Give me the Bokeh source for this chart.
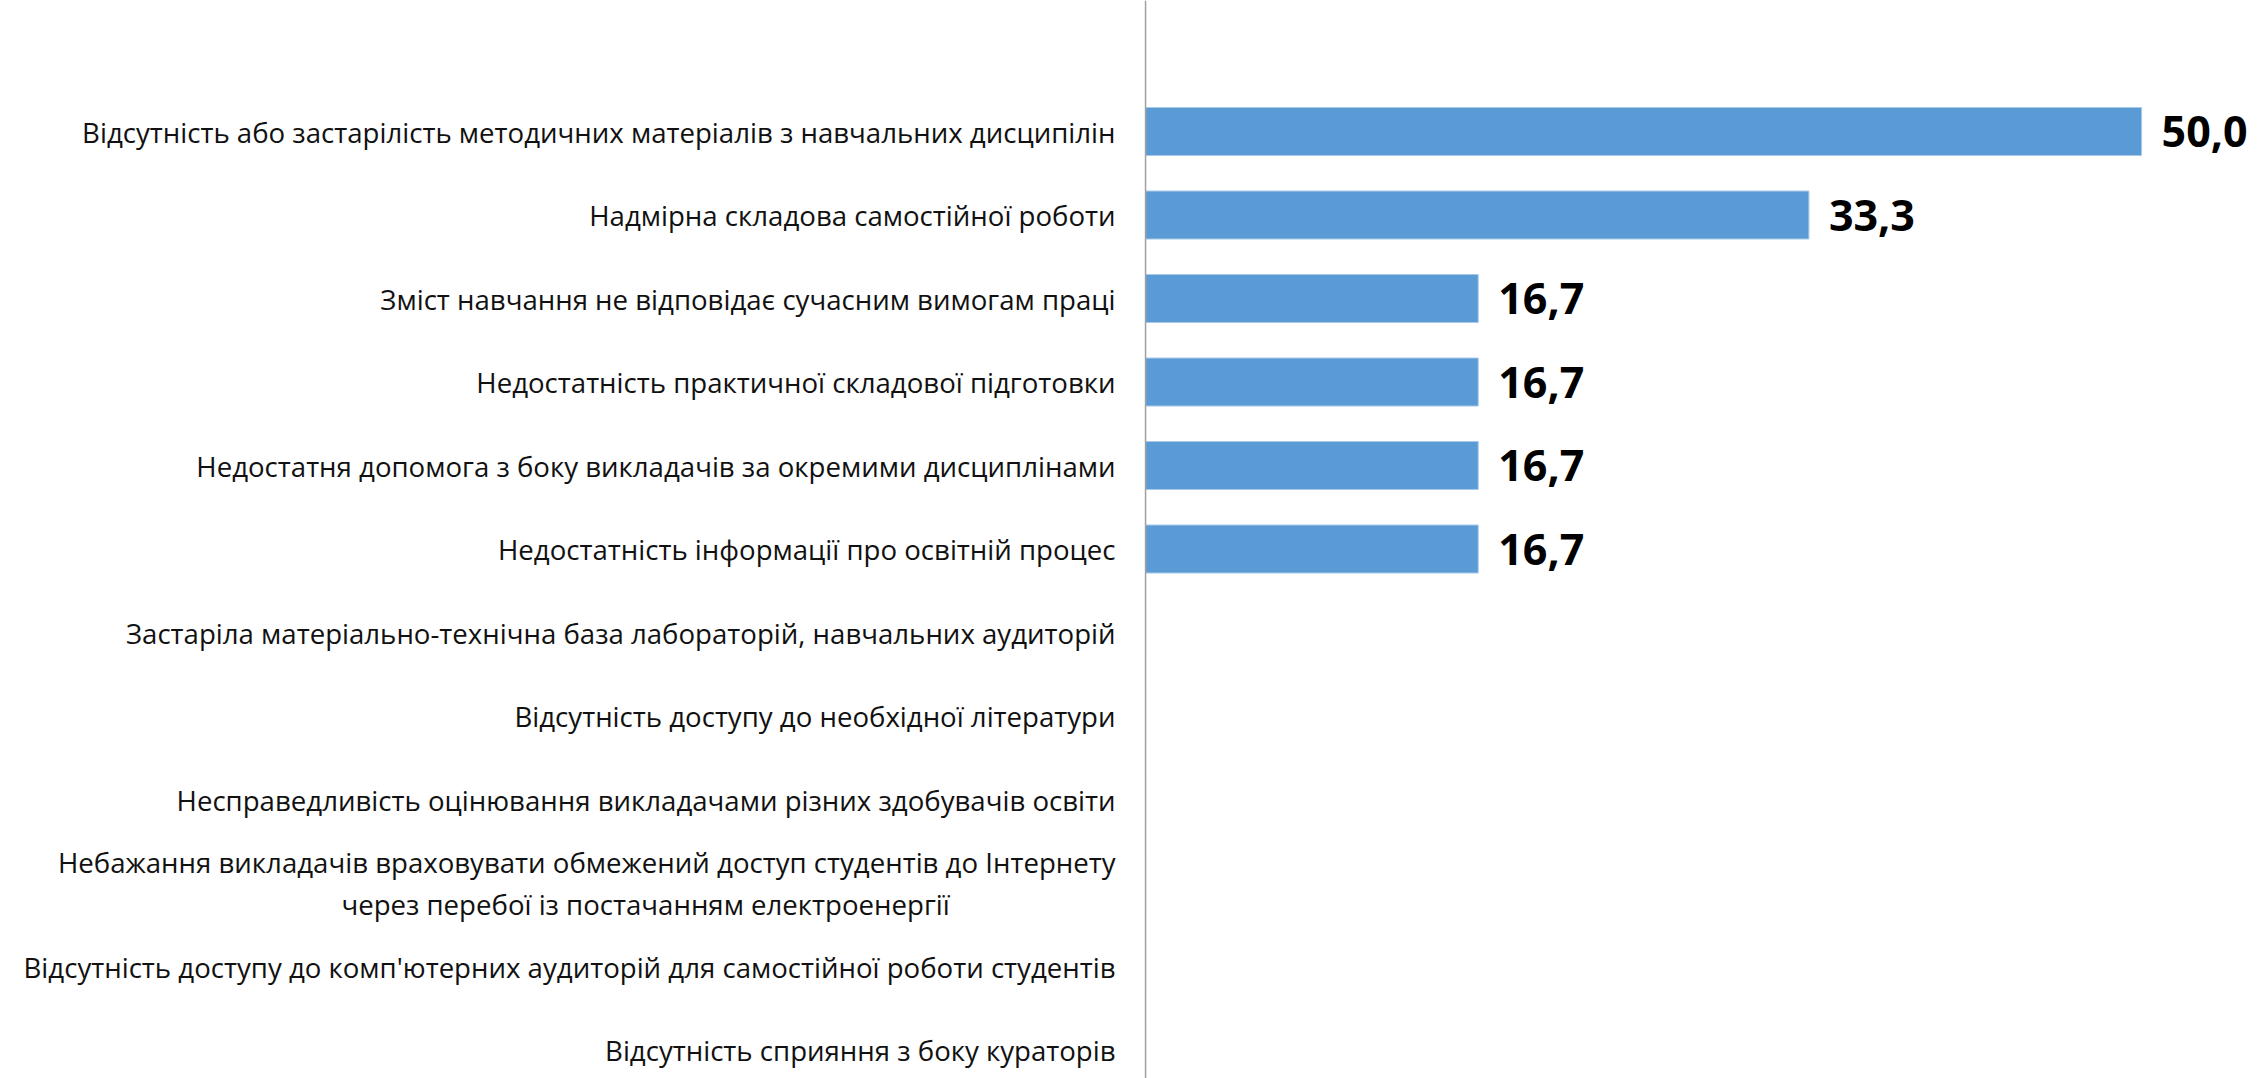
from bokeh.plotting import figure
from bokeh.models import ColumnDataSource, Range1d, Span
from bokeh.core.properties import value
from bokeh.embed import file_html
from bokeh.resources import INLINE

categories = [
    "Відсутність або застарілість методичних матеріалів з навчальних дисципілін",
    "Надмірна складова самостійної роботи",
    "Зміст навчання не відповідає сучасним вимогам праці",
    "Недостатність практичної складової підготовки",
    "Недостатня допомога з боку викладачів за окремими дисциплінами",
    "Недостатність інформації про освітній процес",
    "Застаріла матеріально-технічна база лабораторій, навчальних аудиторій",
    "Відсутність доступу до необхідної літератури",
    "Несправедливість оцінювання викладачами різних здобувачів освіти",
    "Небажання викладачів враховувати обмежений доступ студентів до Інтернету\nчерез перебої із постачанням електроенергії",
    "Відсутність доступу до комп'ютерних аудиторій для самостійної роботи студентів",
    "Відсутність сприяння з боку кураторів",
]
values = [50.0, 33.3, 16.7, 16.7, 16.7, 16.7, 0, 0, 0, 0, 0, 0]

FONT = "Open Sans"
BAR = "#5B9BD5"

positions = list(range(len(categories)))

p = figure(width=2264, height=1078, output_backend="svg", toolbar_location=None,
           x_range=Range1d(-57.48, 56.17), y_range=Range1d(11.341, -1.569),
           min_border=0, outline_line_color=None)
p.xaxis.visible = False
p.yaxis.visible = False
p.xgrid.visible = False
p.ygrid.visible = False
p.background_fill_color = "white"
p.border_fill_color = "white"

bar_src = ColumnDataSource(dict(y=positions, v=values))
p.hbar(y="y", right="v", left=0, height=0.575, source=bar_src,
       fill_color=BAR, line_color="#A9C9EA", line_width=1)

# value labels
vx, vy, vt = [], [], []
for i, v in zip(positions, values):
    if v > 0:
        vx.append(v)
        vy.append(i)
        vt.append(f"{v:.1f}".replace(".", ","))
p.text(x=vx, y=vy, text=vt, x_offset=20, text_align="left", text_baseline="middle",
       text_font=value(FONT), text_font_style="bold", text_font_size="43px",
       text_color="#000000")

# category labels
lx, ly, lt, loff, lyoff, lal = [], [], [], [], [], []
for i, c in zip(positions, categories):
    lines = c.split("\n")
    n = len(lines)
    for k, line in enumerate(lines):
        lx.append(0)
        ly.append(i)
        lt.append(line)
        lyoff.append((k - (n - 1) / 2) * 42)
        if k == 0:
            loff.append(-30)
            lal.append("right")
        else:
            loff.append(-500)
            lal.append("center")
lab_src = ColumnDataSource(dict(x=lx, y=ly, text=lt, xo=loff, yo=lyoff, al=lal))
p.text(x="x", y="y", text="text", x_offset="xo", y_offset="yo", text_align="al",
       text_baseline="middle", source=lab_src, text_font=value(FONT),
       text_font_size="27.6px", text_color="#111111")

# vertical category axis line
p.add_layout(Span(location=0, dimension="height", line_color="#A0A0A0", line_width=1.5))

open("out.html", "w").write(file_html(p, INLINE))
